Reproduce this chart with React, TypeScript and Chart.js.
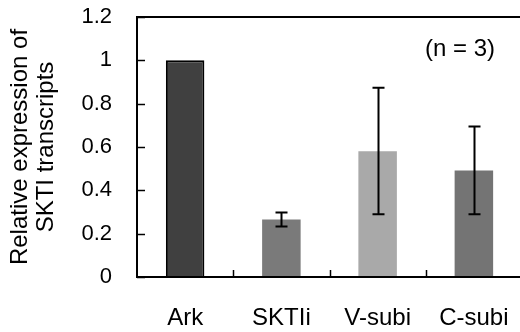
import React, { useEffect, useRef } from "react";
import { Chart, registerables } from "chart.js";

Chart.register(...registerables);

const categories = ["Ark", "SKTIi", "V-subi", "C-subi"];
const values = [1.0, 0.265, 0.58, 0.492];
const errLow = [null, 0.233, 0.29, 0.29];
const errHigh = [null, 0.298, 0.873, 0.695];
const barColors = ["#404040", "#7a7a7a", "#a9a9a9", "#747474"];
const yTickValues = [0, 0.2, 0.4, 0.6, 0.8, 1, 1.2];
const yTitle = ["Relative expression of", "SKTI transcripts"];
const note = "(n = 3)";

const FONT = '"Liberation Sans", Arial, sans-serif';

const framePlugin = {
  id: "frame",
  afterDatasetsDraw(chart: any) {
    const { ctx, chartArea, scales } = chart;
    const x = scales.x;
    const y = scales.y;
    ctx.save();
    ctx.strokeStyle = "#000";
    ctx.lineWidth = 2;
    const meta = chart.getDatasetMeta(0);
    meta.data.forEach((bar: any, i: number) => {
      if (errLow[i] == null || errHigh[i] == null) return;
      const yl = y.getPixelForValue(errLow[i]);
      const yh = y.getPixelForValue(errHigh[i]);
      const cx = Math.round(bar.x) + 0.5;
      ctx.beginPath();
      ctx.moveTo(cx, yl);
      ctx.lineTo(cx, yh);
      ctx.moveTo(cx - 6, yl);
      ctx.lineTo(cx + 6, yl);
      ctx.moveTo(cx - 6, yh);
      ctx.lineTo(cx + 6, yh);
      ctx.stroke();
    });
    ctx.lineWidth = 2;
    ctx.beginPath();
    ctx.moveTo(chartArea.right, chartArea.top);
    ctx.lineTo(chartArea.left, chartArea.top);
    ctx.lineTo(chartArea.left, chartArea.bottom);
    ctx.lineTo(chartArea.right, chartArea.bottom);
    ctx.lineTo(chartArea.right, chartArea.top);
    ctx.stroke();
    ctx.lineWidth = 1.5;
    yTickValues.forEach((v) => {
      const py = Math.round(y.getPixelForValue(v)) + 0.5;
      ctx.beginPath();
      ctx.moveTo(chartArea.left, py);
      ctx.lineTo(chartArea.left + 8, py);
      ctx.stroke();
    });
    const half = (x.getPixelForValue(1) - x.getPixelForValue(0)) / 2;
    for (let i = 1; i < categories.length; i++) {
      const px = Math.round(x.getPixelForValue(i) - half) + 0.5;
      ctx.beginPath();
      ctx.moveTo(px, chartArea.bottom);
      ctx.lineTo(px, chartArea.bottom - 7);
      ctx.stroke();
    }
    ctx.fillStyle = "#000";
    ctx.font = `24px ${FONT}`;
    ctx.textAlign = "center";
    ctx.textBaseline = "middle";
    ctx.fillText(note, chartArea.right - 62, y.getPixelForValue(1.05));
    ctx.restore();
  },
};

export default function App() {
  const ref = useRef<HTMLCanvasElement>(null);
  useEffect(() => {
    if (!ref.current) return;
    const chart = new Chart(ref.current, {
      type: "bar",
      data: {
        labels: categories,
        datasets: [
          {
            data: values,
            backgroundColor: barColors,
            borderColor: "#000",
            borderWidth: [2, 0, 0, 0],
            barPercentage: 0.4,
            categoryPercentage: 1,
          },
        ],
      },
      options: {
        responsive: false,
        animation: false,
        devicePixelRatio: 1,
        layout: { padding: { left: 0, right: 18, top: 17, bottom: 0 } },
        plugins: { legend: { display: false }, tooltip: { enabled: false } },
        scales: {
          x: {
            grid: { display: false, drawTicks: false },
            border: { display: false },
            ticks: {
              color: "#000",
              padding: 27,
              font: { family: FONT, size: 24 },
              maxRotation: 0,
            },
            afterFit: (s: any) => {
              s.height = 55;
              s.paddingLeft = 0;
              s.paddingRight = 0;
            },
          },
          y: {
            min: 0,
            max: 1.2,
            grid: { display: false, drawTicks: false },
            border: { display: false },
            ticks: {
              stepSize: 0.2,
              color: "#000",
              padding: 25,
              font: { family: FONT, size: 22 },
              callback: (v: any) => String(Number(Number(v).toFixed(1))),
            },
            title: {
              display: true,
              text: yTitle,
              color: "#000",
              font: { family: FONT, size: 24, lineHeight: 1.1 },
              padding: { top: 7, bottom: 0 },
            },
            afterFit: (s: any) => {
              s.width = 137;
              s.paddingTop = 0;
              s.paddingBottom = 0;
            },
          },
        },
      },
      plugins: [framePlugin],
    });
    return () => chart.destroy();
  }, []);
  return (
    <div
      style={{
        position: "fixed",
        left: 0,
        top: 0,
        width: 520,
        height: 332,
        overflow: "hidden",
        background: "#fff",
      }}
    >
      <canvas ref={ref} width={540} height={332} style={{ display: "block" }} />
    </div>
  );
}
